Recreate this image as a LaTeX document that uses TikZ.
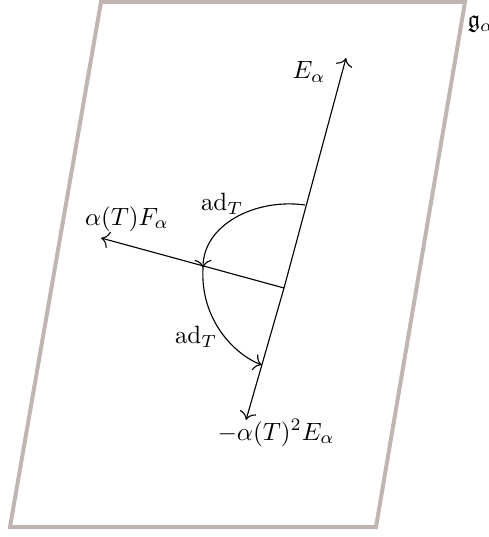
\documentclass[tikz,border=0pt]{standalone}
\usepackage{amssymb}
\usetikzlibrary{arrows.meta}
\begin{document}
\begin{tikzpicture}[x=0.4pt,y=-0.4pt,
  frame/.style={draw={rgb,255:red,192;green,181;blue,179},line width=1.6pt,line join=miter},
  vec/.style={line width=0.45pt,-{To[scale=1.25]}},
  act/.style={line width=0.45pt,-{To[scale=1.25]}},
  lbl/.style={inner sep=0pt}]
\useasboundingbox (0,0) rectangle (488,537);
\draw[frame] (101,2) -- (465,2) -- (376,527) -- (10,527) -- cycle;
\coordinate (O) at (284,288);
\coordinate (Etip) at (346,58);
\coordinate (Mtip) at (246,420);
\coordinate (Ftip) at (101,238);
\coordinate (A) at (305,205);
\coordinate (B) at (203,268);
\coordinate (C) at (262,365);
\draw[vec] (O) -- (Etip);
\draw[vec] (O) -- (Mtip);
\draw[vec] (O) -- (Ftip);
\draw[act] (A) .. controls (255,198) and (203,225) .. (B);
\draw[act] (B) .. controls (200,320) and (235,355) .. (C);
\node[lbl] (lE) at (309,72) {$E_\alpha$};
\node[lbl] (lF) at (127,219) {$\alpha(T)F_\alpha$};
\node[lbl] (lM) at (276,433) {$-\alpha(T)^2E_\alpha$};
\node[lbl] (lad1) at (222,204) {$\mathrm{ad}_T$};
\node[lbl] (lad2) at (196,337) {$\mathrm{ad}_T$};
\node[lbl,anchor=west] (lg) at (467,24) {$\mathfrak{g}_\alpha$};
\end{tikzpicture}
\end{document}
